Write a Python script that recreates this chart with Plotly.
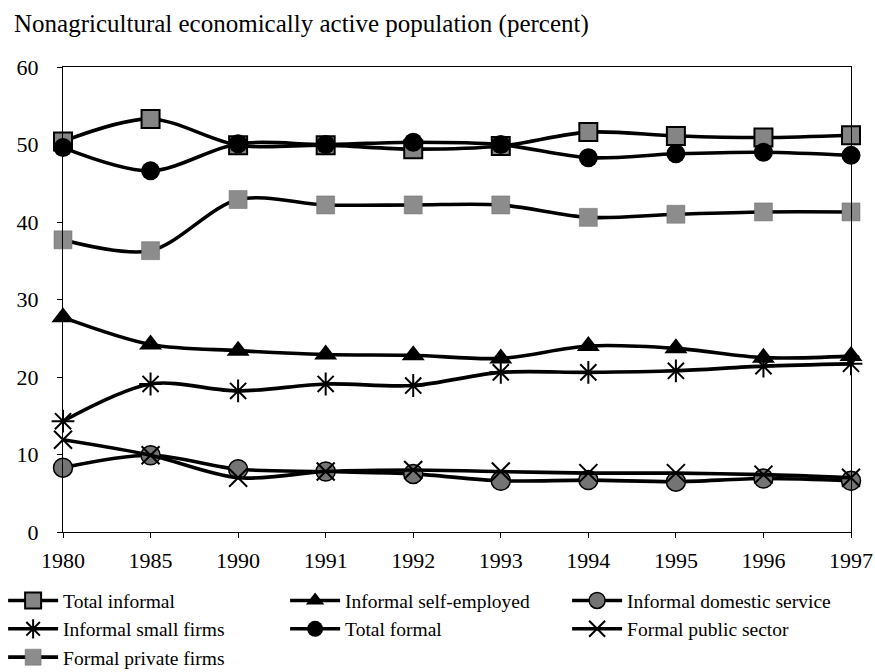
import plotly.graph_objects as go

years = ["1980", "1985", "1990", "1991", "1992", "1993", "1994", "1995", "1996", "1997"]

total_informal = [50.4, 53.3, 49.9, 49.9, 49.4, 49.8, 51.6, 51.1, 50.9, 51.2]
informal_self_employed = [27.7, 24.2, 23.4, 22.9, 22.8, 22.4, 24.0, 23.7, 22.5, 22.7]
informal_domestic_service = [8.3, 9.9, 8.1, 7.8, 7.5, 6.6, 6.7, 6.5, 6.9, 6.6]
informal_small_firms = [14.3, 19.1, 18.2, 19.1, 18.9, 20.6, 20.6, 20.8, 21.4, 21.7]
total_formal = [49.6, 46.6, 50.1, 50.0, 50.3, 50.0, 48.3, 48.8, 49.0, 48.6]
formal_public_sector = [11.9, 9.9, 7.0, 7.8, 8.0, 7.8, 7.6, 7.6, 7.4, 7.0]
formal_private_firms = [37.7, 36.3, 42.9, 42.2, 42.2, 42.2, 40.6, 41.0, 41.3, 41.3]

SERIF = "Liberation Serif, Times New Roman, serif"

series = [
    ("Total informal", total_informal,
     dict(symbol="square", size=18, color="#858585", line=dict(color="black", width=2))),
    ("Informal self-employed", informal_self_employed,
     dict(symbol="triangle-up", size=20, color="black", line=dict(color="black", width=0))),
    ("Informal domestic service", informal_domestic_service,
     dict(symbol="circle", size=19, color="#747474", line=dict(color="black", width=1.5))),
    ("Informal small firms", informal_small_firms,
     dict(symbol="asterisk-open", size=19, color="black", line=dict(color="black", width=2))),
    ("Total formal", total_formal,
     dict(symbol="circle", size=19, color="black", line=dict(color="black", width=0))),
    ("Formal public sector", formal_public_sector,
     dict(symbol="x-thin-open", size=18, color="black", line=dict(color="black", width=2))),
    ("Formal private firms", formal_private_firms,
     dict(symbol="square", size=18, color="#8c8c8c", line=dict(color="#6a6a6a", width=0.5))),
]

fig = go.Figure()
for name, vals, marker in series:
    fig.add_trace(go.Scatter(
        x=years, y=vals, name=name,
        mode="lines+markers",
        line=dict(color="black", width=3.6, shape="spline", smoothing=0.9),
        marker=marker,
        cliponaxis=False,
    ))

fig.update_layout(
    width=875, height=672,
    margin=dict(l=63, r=24, t=67, b=140, autoexpand=False),
    paper_bgcolor="white", plot_bgcolor="white",
    font=dict(family=SERIF, size=22, color="black"),
    showlegend=True,
    legend=dict(
        orientation="h",
        x=-0.076, xanchor="left",
        y=-0.106, yanchor="top",
        entrywidth=217, entrywidthmode="pixels",
        itemwidth=50,
        font=dict(family=SERIF, size=19.5, color="black"),
        tracegroupgap=0,
        bgcolor="rgba(0,0,0,0)",
    ),
    annotations=[dict(
        text="Nonagricultural economically active population (percent)",
        xref="paper", yref="paper", x=-0.0647, y=1.0925,
        xanchor="left", yanchor="middle", showarrow=False,
        font=dict(family=SERIF, size=25, color="black"),
    )],
)

fig.update_xaxes(
    type="category", range=[0, 9],
    showgrid=False, zeroline=False,
    showline=True, linecolor="black", linewidth=1, mirror=True,
    ticks="outside", ticklen=5, tickcolor="black",
    ticklabelstandoff=4,
    tickfont=dict(family=SERIF, size=22, color="black"),
)
fig.update_yaxes(
    range=[0, 60], dtick=10,
    showgrid=False, zeroline=False,
    showline=True, linecolor="black", linewidth=1, mirror=True,
    ticks="outside", ticklen=5, tickcolor="black",
    ticklabelstandoff=14,
    tickfont=dict(family=SERIF, size=22, color="black"),
)

fig.write_html("out.html")
